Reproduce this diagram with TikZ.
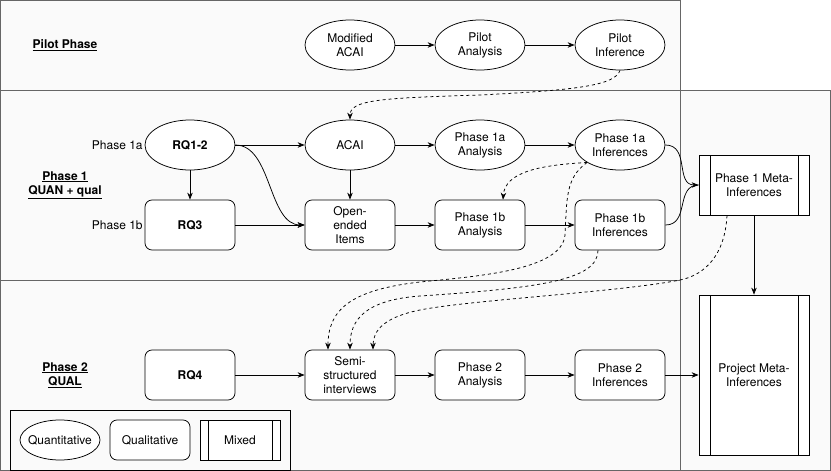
\documentclass[tikz,border=0pt]{standalone}
\usepackage{fontspec}
\setmainfont{TeX Gyre Heros}
\usetikzlibrary{shapes.geometric,arrows.meta,calc}
\definecolor{bgfill}{HTML}{FAFAFA}
\definecolor{framec}{HTML}{666666}
\begin{document}
\begin{tikzpicture}[x=1pt,y=-1pt,
  font=\fontsize{12}{14}\selectfont,
  every path/.style={line width=0.75pt},
  quan/.style={ellipse, draw, fill=white, minimum width=90pt, minimum height=50pt, inner sep=0pt, align=center},
  qual/.style={rectangle, rounded corners=7pt, draw, fill=white, minimum width=90pt, minimum height=50pt, inner sep=0pt, align=center},
  mixbox/.style={rectangle, draw, fill=white, minimum width=110pt, minimum height=60pt, inner sep=0pt, align=center,
    path picture={
      \draw ([xshift=#1]path picture bounding box.north west) -- ([xshift=#1]path picture bounding box.south west);
      \draw ([xshift=-#1]path picture bounding box.north east) -- ([xshift=-#1]path picture bounding box.south east);}},
  mixbox/.default=11pt,
  boldtxt/.style={font=\fontsize{12}{14}\selectfont\bfseries},
  arr/.style={-{Stealth[length=7pt,width=5.5pt]}},
  darr/.style={arr, dash pattern=on 3pt off 3pt},
  container/.style={draw=framec, fill=bgfill}]
\useasboundingbox (0,0) rectangle (831,471);
\fill[white] (0,0) rectangle (831,471);
% containers
\draw[container] (0.5,0.5) rectangle (680,90);
\draw[container] (0.5,90) rectangle (680,280);
\draw[container] (0.5,280) rectangle (680,470);
\draw[container] (680,90) rectangle (830,470);
% legend frame
\draw[fill=bgfill] (10,410) rectangle (290,470);

% phase labels
\node[boldtxt] (lpilot) at (65,45) {\underline{Pilot Phase}};
\node[boldtxt, align=center] (lph1) at (65,185) {\underline{Phase 1}\\\underline{QUAN + qual}};
\node[boldtxt, align=center] (lph2) at (65,375) {\underline{Phase 2}\\\underline{QUAL}};
\node[anchor=east, inner sep=1pt] (l1a) at (144,145) {Phase 1a};
\node[anchor=east, inner sep=1pt] (l1b) at (144,225) {Phase 1b};

% pilot row
\node[quan] (mod) at (350,45) {Modified\\ACAI};
\node[quan] (pa) at (480,45) {Pilot\\Analysis};
\node[quan] (pi) at (620,45) {Pilot\\Inference};
% phase 1a row
\node[quan, boldtxt] (rq12) at (190,145) {RQ1-2};
\node[quan] (acai) at (350,145) {ACAI};
\node[quan] (a1a) at (480,145) {Phase 1a\\Analysis};
\node[quan] (i1a) at (620,145) {Phase 1a\\Inferences};
% phase 1b row
\node[qual, boldtxt] (rq3) at (190,225) {RQ3};
\node[qual] (oe) at (350,225) {Open-\\ended\\Items};
\node[qual] (a1b) at (480,225) {Phase 1b\\Analysis};
\node[qual] (i1b) at (620,225) {Phase 1b\\Inferences};
% phase 2 row
\node[qual, boldtxt] (rq4) at (190,375) {RQ4};
\node[qual] (semi) at (350,375) {Semi-\\structured\\interviews};
\node[qual] (a2) at (480,375) {Phase 2\\Analysis};
\node[qual] (i2) at (620,375) {Phase 2\\Inferences};
% meta
\node[mixbox] (m1) at (754,185) {Phase 1 Meta-\\Inferences};
\node[mixbox, minimum height=160pt] (pm) at (754,375) {Project Meta-\\Inferences};
% legend
\node[quan, minimum width=80pt, minimum height=40pt, label={center:Quantitative}] (legq) at (60,440) {};
\node[qual, minimum width=80pt, minimum height=40pt] (legl) at (150,440) {Qualitative};
\node[mixbox=8pt, minimum width=80pt, minimum height=40pt] (legm) at (240,440) {Mixed};

% solid arrows
\draw[arr] (mod) -- (pa);
\draw[arr] (pa) -- (pi);
\draw[arr] (rq12) -- (acai);
\draw[arr] (acai) -- (a1a);
\draw[arr] (a1a) -- (i1a);
\draw[arr] (rq12) -- (rq3);
\draw[arr] (acai) -- (oe);
\draw[arr] (rq3) -- (oe);
\draw[arr] (oe) -- (a1b);
\draw[arr] (a1b) -- (i1b);
\draw[arr] (rq12.east) .. controls (272,145) and (268,225) .. (oe.west);
\draw[arr] (i1a.east) .. controls (690,145) and (675,185) .. (m1.west);
\draw (i1b.east) .. controls (690,225) and (675,185) .. (m1.west);
\draw[arr] (m1) -- (pm);
\draw[arr] (rq4) -- (semi);
\draw[arr] (semi) -- (a2);
\draw[arr] (a2) -- (i2);
\draw[arr] (i2) -- (pm);

% dashed arrows
\draw[darr] (pi.south) .. controls (615,85) and (580,90) .. (480,95) .. controls (380,98) and (350,100) .. (acai.north);
\draw[darr] (i1a.-152) .. controls (540,165) and (505,172) .. ([xshift=23pt]a1b.north);
\draw[darr] (i1a.-152) .. controls (565,178) and (567,200) .. (565,235) .. controls (562,270) and (480,276) .. (420,282) .. controls (350,290) and (328,310) .. ([xshift=-22pt]semi.north);
\draw[darr] ([xshift=-22pt]i1b.south) .. controls (598,280) and (540,288) .. (420,296) .. controls (365,300) and (350,320) .. (semi.north);
\draw[darr] ([xshift=-27pt]m1.south) .. controls (725,255) and (705,275) .. (680,280) .. controls (620,292) and (470,300) .. (420,310) .. controls (385,317) and (373,330) .. ([xshift=23pt]semi.north);
\end{tikzpicture}
\end{document}
